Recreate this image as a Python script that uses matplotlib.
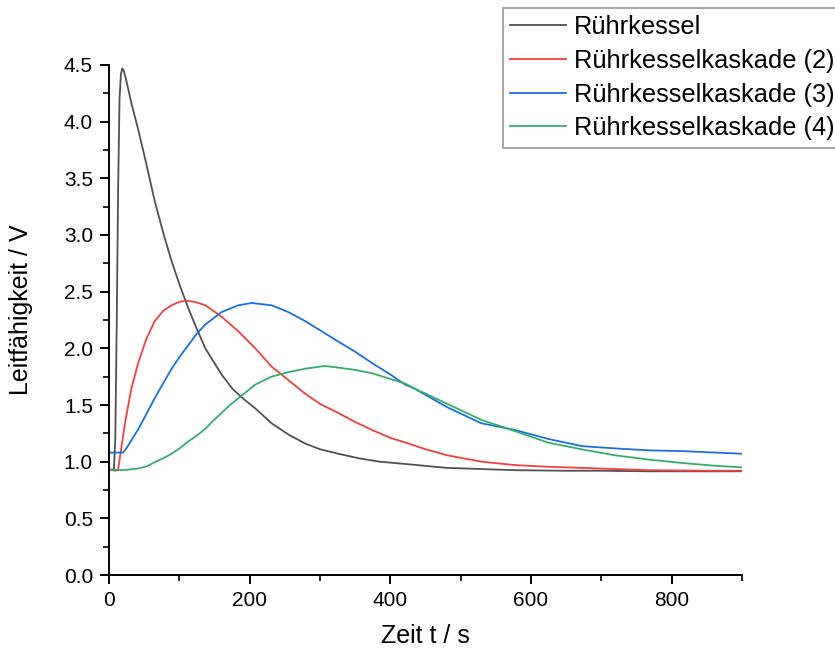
import numpy as np
import matplotlib
matplotlib.use("Agg")
import matplotlib.pyplot as plt
from matplotlib.ticker import MultipleLocator

plt.rcParams.update({
    "font.family": ["Liberation Sans", "DejaVu Sans"],
    "font.size": 15,
    "axes.linewidth": 1.4,
    "xtick.major.width": 1.4,
    "ytick.major.width": 1.4,
    "xtick.minor.width": 1.2,
    "ytick.minor.width": 1.2,
    "xtick.major.size": 6.5,
    "ytick.major.size": 6.5,
    "xtick.minor.size": 4.3,
    "ytick.minor.size": 4.3,
})

# Rührkessel (single stirred tank)
t_rk = [0, 7, 9, 11, 13, 15, 17, 19, 21, 24, 32, 42, 53, 65, 78, 89, 101, 113, 125, 137,
        150, 160, 176, 193, 208, 231, 255, 279, 300, 326, 355, 385, 421, 481, 530, 577,
        650, 700, 768, 850, 900]
y_rk = [0.93, 0.93, 1.2, 2.2, 3.4, 4.2, 4.42, 4.47, 4.45, 4.38, 4.16, 3.92, 3.63, 3.3, 3.0,
        2.77, 2.55, 2.35, 2.17, 2.0, 1.87, 1.77, 1.64, 1.545, 1.47, 1.34, 1.24, 1.16, 1.11,
        1.07, 1.03, 1.0, 0.98, 0.945, 0.935, 0.925, 0.92, 0.92, 0.915, 0.915, 0.915]

# Rührkesselkaskade (2)
t_k2 = [0, 10, 13, 17, 23, 32, 42, 53, 65, 77, 89, 100, 110, 122, 137, 160, 184, 208,
        231, 255, 279, 300, 326, 350, 374, 400, 421, 450, 481, 530, 577, 625, 673, 768,
        850, 900]
y_k2 = [0.93, 0.92, 0.93, 1.1, 1.35, 1.65, 1.88, 2.08, 2.24, 2.33, 2.38, 2.41, 2.42,
        2.41, 2.38, 2.28, 2.15, 2.0, 1.84, 1.72, 1.6, 1.51, 1.43, 1.35, 1.28, 1.21, 1.17,
        1.11, 1.056, 1.0, 0.97, 0.955, 0.945, 0.925, 0.92, 0.92]

# Rührkesselkaskade (3)
t_k3 = [0, 20, 25, 33, 42, 54, 65, 77, 89, 101, 113, 125, 137, 160, 184, 203, 231, 255,
        279, 300, 326, 350, 374, 400, 421, 433, 481, 529, 577, 625, 673, 720, 768, 816, 900]
y_k3 = [1.08, 1.08, 1.12, 1.2, 1.29, 1.43, 1.56, 1.69, 1.82, 1.93, 2.03, 2.13, 2.21, 2.32,
        2.38, 2.4, 2.38, 2.32, 2.24, 2.16, 2.06, 1.97, 1.87, 1.77, 1.68, 1.65, 1.48, 1.34,
        1.28, 1.2, 1.137, 1.117, 1.1, 1.093, 1.07]

# Rührkesselkaskade (4)
t_k4 = [0, 20, 42, 54, 65, 77, 89, 101, 113, 125, 137, 148, 160, 172, 184, 196, 208, 231,
        255, 279, 307, 326, 350, 374, 400, 421, 433, 481, 529, 577, 625, 673, 720, 768,
        816, 860, 900]
y_k4 = [0.93, 0.925, 0.94, 0.96, 0.995, 1.03, 1.07, 1.12, 1.18, 1.23, 1.29, 1.36, 1.43,
        1.5, 1.56, 1.62, 1.68, 1.75, 1.79, 1.82, 1.845, 1.83, 1.81, 1.78, 1.73, 1.69, 1.65,
        1.51, 1.37, 1.27, 1.167, 1.108, 1.056, 1.018, 0.988, 0.965, 0.95]

labels = ["Rührkessel", "Rührkesselkaskade (2)", "Rührkesselkaskade (3)",
          "Rührkesselkaskade (4)"]
colors = ["#515151", "#F14040", "#1A6FDF", "#37AD6B"]

fig = plt.figure(figsize=(8.35, 6.55), dpi=100)
ax = fig.add_axes([0.1305, 0.1221, 0.7581, 0.7787])

series = [(t_rk, y_rk), (t_k2, y_k2), (t_k3, y_k3), (t_k4, y_k4)]
for (t, y), lab, col in zip(series, labels, colors):
    ax.plot(t, y, color=col, linewidth=1.3, label=lab)

ax.set_xlim(0, 900)
ax.set_ylim(0, 4.5)
ax.xaxis.set_major_locator(MultipleLocator(200))
ax.xaxis.set_minor_locator(MultipleLocator(100))
ax.yaxis.set_major_locator(MultipleLocator(0.5))
ax.yaxis.set_minor_locator(MultipleLocator(0.25))
ax.yaxis.set_major_formatter(plt.FormatStrFormatter("%.1f"))
ax.tick_params(which="both", direction="out", labelsize=15, pad=5)
ax.spines["top"].set_visible(False)
ax.spines["right"].set_visible(False)

ax.set_xlabel("Zeit t / s", fontsize=18, labelpad=10)
ax.set_ylabel("Leitfähigkeit / V", fontsize=18)
ax.yaxis.set_label_coords(-0.12, 0.52)

# legend sits partly outside the canvas, as in the original figure
leg = fig.legend(loc="upper left", bbox_to_anchor=(503 / 835, 1 - 8 / 655),
                 borderaxespad=0, fontsize=18.3, frameon=True, fancybox=False,
                 edgecolor="#808080", borderpad=0.29, labelspacing=0.38,
                 handlelength=2.19, handletextpad=0.31)
leg.get_frame().set_linewidth(1.2)
for line in leg.get_lines():
    line.set_linewidth(1.3)

fig.savefig("out.png", dpi=100)
plt.close(fig)
